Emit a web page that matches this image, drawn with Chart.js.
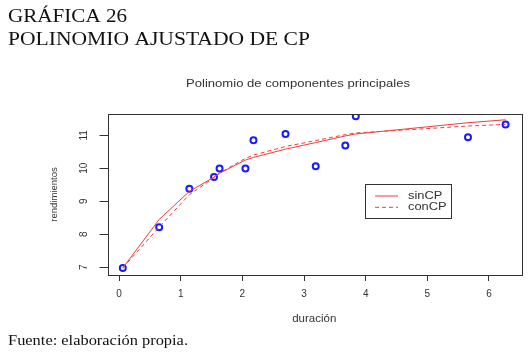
<!DOCTYPE html>
<html>
<head>
<meta charset="utf-8">
<script src="https://cdn.jsdelivr.net/npm/chart.js@4"></script>
<style>
html,body{margin:0;padding:0;background:#fff;}
#wrap{position:relative;width:530px;height:358px;}
</style>
</head>
<body>
<div id="wrap"><canvas id="c" width="530" height="358"></canvas></div>
<script>
// ---- data ----
const duracion     = [0.06, 0.65, 1.14, 1.54, 1.63, 2.05, 2.18, 2.70, 3.19, 3.67, 3.84, 5.66, 6.27];
const rendimientos = [6.98, 8.21, 9.38, 9.74, 9.99, 9.99, 10.85, 11.04, 10.06, 10.69, 11.58, 10.94, 11.33];
const sinCP        = [6.98, 8.45, 9.30, 9.73, 9.85, 10.25, 10.33, 10.58, 10.78, 10.98, 11.04, 11.38, 11.47];
const conCP        = [6.98, 8.22, 9.20, 9.72, 9.86, 10.30, 10.40, 10.66, 10.84, 11.02, 11.07, 11.28, 11.33];
const xTicks = [0, 1, 2, 3, 4, 5, 6];
const yTicks = [7, 8, 9, 10, 11];
const headingLines = ['GRÁFICA 26', 'POLINOMIO AJUSTADO DE CP'];
const footerText = 'Fuente: elaboración propia.';
const plotTitle = 'Polinomio de componentes principales';
const xTitle = 'duración';
const yTitle = 'rendimientos';

const toXY = (xs, ys) => xs.map((x, i) => ({x: x, y: ys[i]}));

const RED = '#f03c3c';
const BLUE = '#1a1aff';
const TXT = '#333';
const SANS = '"Liberation Sans", Arial, sans-serif';

// draw text stretched horizontally so that it spans a given width
function stretchText(ctx, text, x, y, width, align) {
  const w = ctx.measureText(text).width;
  const s = width / w;
  ctx.save();
  ctx.textAlign = 'left';
  let x0 = x;
  if (align === 'center') x0 = x - width / 2;
  ctx.translate(x0, y);
  ctx.scale(s, 1);
  ctx.fillText(text, 0, 0);
  ctx.restore();
}

const framePlugin = {
  id: 'frame',
  afterDraw(chart) {
    const ctx = chart.ctx;
    const a = chart.chartArea;
    ctx.save();
    // plot box
    ctx.strokeStyle = '#333';
    ctx.lineWidth = 1;
    ctx.strokeRect(Math.round(a.left) + 0.5, Math.round(a.top) + 0.5,
                   Math.round(a.right - a.left), Math.round(a.bottom - a.top));
    // plot title
    ctx.fillStyle = TXT;
    ctx.textBaseline = 'alphabetic';
    ctx.font = '11px ' + SANS;
    stretchText(ctx, plotTitle, 298, 87, 224, 'center');
    // legend box
    const lx = 365.5, ly = 184.5, lw = 86, lh = 34;
    ctx.fillStyle = '#fff';
    ctx.fillRect(lx, ly, lw, lh);
    ctx.strokeRect(lx, ly, lw, lh);
    const lineDs = chart.data.datasets.filter(d => d.type === 'line');
    lineDs.forEach((d, i) => {
      const yy = ly + 11.5 + i * 11.3;
      ctx.strokeStyle = d.borderColor;
      ctx.lineWidth = 1;
      ctx.setLineDash(d.borderDash || []);
      ctx.beginPath();
      ctx.moveTo(375, yy); ctx.lineTo(398, yy); ctx.stroke();
      ctx.setLineDash([]);
      ctx.fillStyle = TXT;
      ctx.font = '11px ' + SANS;
      ctx.textBaseline = 'middle';
      const w = ctx.measureText(d.label).width * 1.17;
      stretchText(ctx, d.label, 408, yy, w, 'left');
    });
    // heading & footer (serif)
    ctx.fillStyle = '#111';
    ctx.textBaseline = 'alphabetic';
    ctx.font = '18.5px "Liberation Serif", serif';
    stretchText(ctx, headingLines[0], 8, 21.5, 119, 'left');
    stretchText(ctx, headingLines[1], 8, 45, 302, 'left');
    ctx.font = '15px "Liberation Serif", serif';
    stretchText(ctx, footerText, 8, 345, 180, 'left');
    ctx.restore();
  }
};

new Chart(document.getElementById('c'), {
  data: {
    datasets: [
      {
        type: 'line', label: 'sinCP', data: toXY(duracion, sinCP),
        borderColor: RED, borderWidth: 1, pointRadius: 0, tension: 0, fill: false, order: 1
      },
      {
        type: 'line', label: 'conCP', data: toXY(duracion, conCP),
        borderColor: RED, borderWidth: 1, borderDash: [4, 3], pointRadius: 0, tension: 0, fill: false, order: 2
      },
      {
        type: 'scatter', label: 'datos', data: toXY(duracion, rendimientos),
        borderColor: BLUE, backgroundColor: 'rgba(255,255,255,0)', borderWidth: 2,
        pointRadius: 3, pointHoverRadius: 3, order: 3
      }
    ]
  },
  options: {
    responsive: false,
    animation: false,
    layout: { padding: { left: 0, right: 9, top: 114, bottom: 0 } },
    plugins: {
      legend: { display: false },
      tooltip: { enabled: false },
      title: { display: false }
    },
    scales: {
      x: {
        type: 'linear', position: 'bottom', min: -0.188, max: 6.52,
        afterBuildTicks: s => { s.ticks = xTicks.map(v => ({value: v})); },
        afterFit: s => { s.height = 83; },
        grid: { display: true, drawOnChartArea: false, drawTicks: true, tickLength: 6, color: '#333' },
        border: { display: false },
        ticks: { color: TXT, padding: 7, maxRotation: 0, font: { family: SANS, size: 10 } },
        title: { display: true, text: xTitle, color: TXT, padding: { top: 0, bottom: 32.1 },
                 font: { family: SANS, size: 11.5 } }
      },
      y: {
        type: 'linear', position: 'left', min: 6.767, max: 11.645,
        afterBuildTicks: s => { s.ticks = yTicks.map(v => ({value: v})); },
        afterFit: s => { s.width = 107.5; },
        grid: { display: true, drawOnChartArea: false, drawTicks: true, tickLength: 8, color: '#333' },
        border: { display: false },
        ticks: { color: TXT, padding: 10, minRotation: 90, maxRotation: 90, crossAlign: 'center',
                 font: { family: SANS, size: 10 } },
        title: { display: true, text: yTitle, color: TXT, padding: { top: 48.8, bottom: 0 },
                 font: { family: SANS, size: 9.5 } }
      }
    }
  },
  plugins: [framePlugin]
});
</script>
</body>
</html>
